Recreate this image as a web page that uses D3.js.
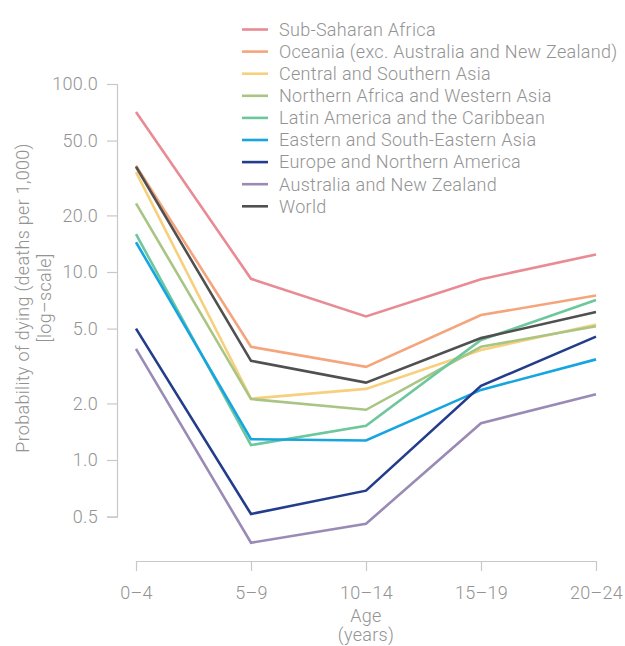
<!DOCTYPE html>
<html>
<head>
<meta charset="utf-8">
<script src="https://cdn.jsdelivr.net/npm/d3@7"></script>
<style>
  html, body { margin: 0; padding: 0; background: #fff; }
  svg { display: block; }
  text { font-family: Roboto, "Liberation Sans", sans-serif; font-weight: 300; fill: #939393; }
</style>
</head>
<body>
<svg id="chart" width="625" height="646"></svg>
<script>
const ageGroups = ["0–4", "5–9", "10–14", "15–19", "20–24"];
const seriesNames = [
  "Sub-Saharan Africa",
  "Oceania (exc. Australia and New Zealand)",
  "Central and Southern Asia",
  "Northern Africa and Western Asia",
  "Latin America and the Caribbean",
  "Eastern and South-Eastern Asia",
  "Europe and Northern America",
  "Australia and New Zealand",
  "World"
];
const subSaharanAfrica   = [71.0, 9.2, 5.8, 9.15, 12.4];
const oceania            = [36.8, 4.0, 3.13, 5.9, 7.5];
const centralSouthAsia   = [34.0, 2.12, 2.39, 3.85, 5.25];
const northAfricaWAsia   = [23.2, 2.11, 1.85, 4.0, 5.15];
const latinAmerica       = [15.9, 1.2, 1.52, 4.35, 7.1];
const eastSEAsia         = [14.4, 1.29, 1.27, 2.36, 3.43];
const europeNAmerica     = [5.0, 0.516, 0.687, 2.48, 4.53];
const australiaNZ        = [3.9, 0.363, 0.458, 1.57, 2.24];
const world              = [36.3, 3.37, 2.58, 4.45, 6.13];
const seriesValues = [subSaharanAfrica, oceania, centralSouthAsia, northAfricaWAsia,
  latinAmerica, eastSEAsia, europeNAmerica, australiaNZ, world];
const seriesColors = ["#e98b94", "#f4a57c", "#f7d07e", "#a9c583", "#6cc79d",
  "#17a5e0", "#233d8c", "#9a8bb6", "#505050"];
const yTicks = [0.5, 1, 2, 5, 10, 20, 50, 100];
const yTitle = ["Probability of dying (deaths per 1,000)", "[log–scale]"];
const xTitle = ["Age", "(years)"];

const svg = d3.select("#chart");
const axisColor = "#c8c8c8";
const fontFam = "Roboto, 'Liberation Sans', sans-serif";
const fs = 18;
const ls = "0.3px";

const x = d3.scalePoint().domain(ageGroups).range([136, 596]);
const y = d3.scaleLog().domain([0.5, 100]).range([516.6, 84]);

function styleText(sel) {
  sel.attr("font-size", fs).attr("font-family", fontFam).attr("font-weight", 300)
    .attr("fill", "#939393").attr("letter-spacing", ls);
}

// Y axis
const yAxis = svg.append("g").attr("transform", "translate(117,0)")
  .call(d3.axisLeft(y).tickValues(yTicks).tickFormat(d3.format(".1f")).tickSize(10).tickPadding(9));
yAxis.select(".domain").attr("stroke", axisColor).attr("stroke-width", 1.2);
yAxis.selectAll(".tick line").attr("stroke", axisColor).attr("stroke-width", 1.2);
yAxis.selectAll(".tick text").call(styleText);

// X axis
const xAxis = svg.append("g").attr("transform", "translate(0,561)")
  .call(d3.axisBottom(x).tickSize(10).tickSizeOuter(0).tickPadding(15));
xAxis.select(".domain").attr("stroke", axisColor).attr("stroke-width", 1.2);
xAxis.selectAll(".tick line").attr("stroke", axisColor).attr("stroke-width", 1.2);
xAxis.selectAll(".tick text").call(styleText);

// Axis titles
svg.append("text").attr("x", x("10–14")).attr("y", 622)
  .attr("text-anchor", "middle").call(styleText).text(xTitle[0]);
svg.append("text").attr("x", x("10–14")).attr("y", 641)
  .attr("text-anchor", "middle").call(styleText).text(xTitle[1]);

const yt = svg.append("g").attr("transform", "translate(0,298) rotate(-90)");
yt.append("text").attr("x", 0).attr("y", 29).attr("text-anchor", "middle")
  .call(styleText).text(yTitle[0]);
yt.append("text").attr("x", 0).attr("y", 51).attr("text-anchor", "middle")
  .call(styleText).text(yTitle[1]);

// Lines
const line = d3.line().x((d, i) => x(ageGroups[i])).y(d => y(d));
svg.append("g").selectAll("path").data(seriesValues).join("path")
  .attr("d", line).attr("fill", "none")
  .attr("stroke", (d, i) => seriesColors[i]).attr("stroke-width", 2.6)
  .attr("stroke-linejoin", "miter");

// Legend
const legend = svg.append("g");
const lg = legend.selectAll("g").data(seriesNames).join("g")
  .attr("transform", (d, i) => `translate(242,${29.5 + i * 22.1})`);
lg.append("line").attr("x1", 0).attr("x2", 26).attr("y1", 0).attr("y2", 0)
  .attr("stroke", (d, i) => seriesColors[i]).attr("stroke-width", 2.6);
lg.append("text").attr("x", 37).attr("y", 0).attr("dy", "0.35em")
  .call(styleText).text(d => d);
</script>
</body>
</html>
